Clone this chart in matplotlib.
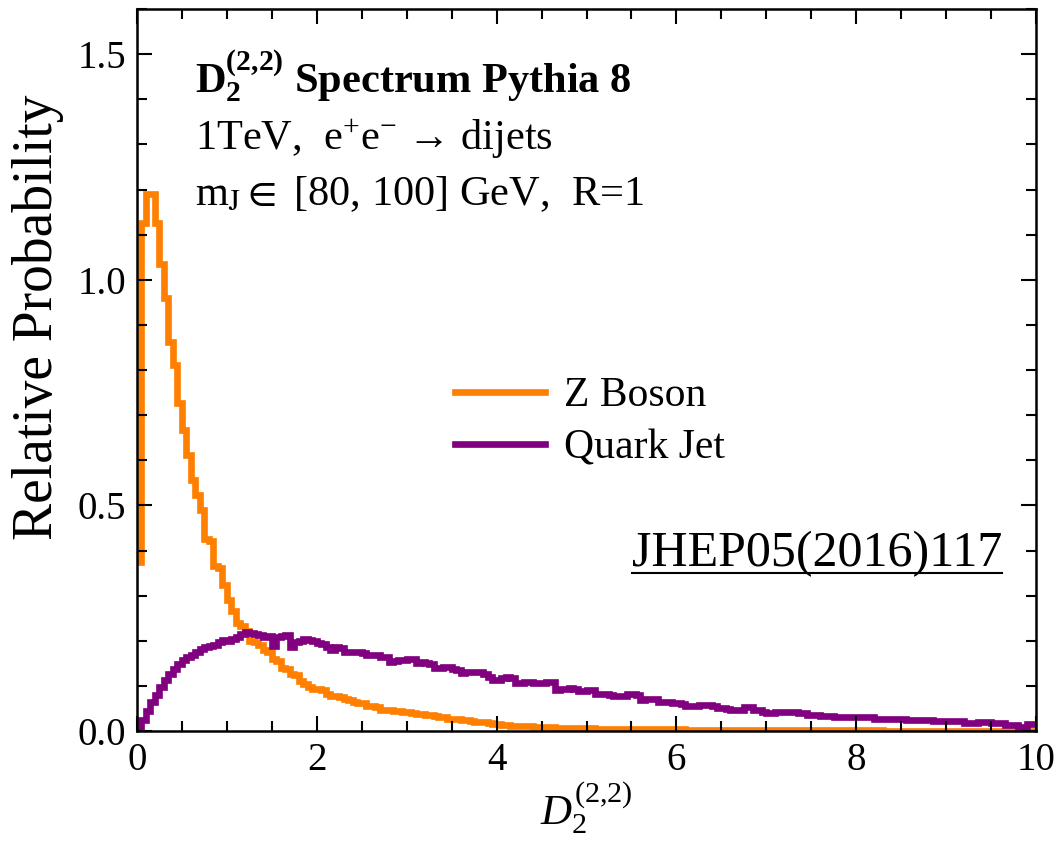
import numpy as np
import matplotlib
matplotlib.use("Agg")
import matplotlib.pyplot as plt
from matplotlib.ticker import MultipleLocator

# ---------------- data ----------------
bin_width = 0.05
x_min, x_max = 0.0, 10.0

z_boson = [
    0.375, 1.125, 1.19, 1.19, 1.125, 1.035, 0.96, 0.862, 0.81, 0.727,
    0.667, 0.612, 0.556, 0.523, 0.49, 0.425, 0.42, 0.366, 0.362, 0.324,
    0.29, 0.265, 0.24, 0.232, 0.222, 0.20, 0.198, 0.19, 0.18, 0.175,
    0.16, 0.155, 0.14, 0.138, 0.127, 0.125, 0.11, 0.104, 0.097, 0.094,
    0.093, 0.091, 0.083, 0.078, 0.077, 0.075, 0.071, 0.069, 0.064, 0.063,
    0.061, 0.056, 0.055, 0.054, 0.047, 0.046, 0.046, 0.045, 0.044, 0.042,
    0.041, 0.040, 0.038, 0.037, 0.036, 0.035, 0.033, 0.032, 0.030, 0.027,
    0.026, 0.026, 0.024, 0.024, 0.022, 0.020, 0.020, 0.019, 0.017, 0.016,
    0.015, 0.014, 0.013, 0.012, 0.011, 0.011, 0.010, 0.010, 0.009, 0.009,
    0.008, 0.008, 0.008, 0.007, 0.007, 0.007, 0.007, 0.006, 0.006, 0.006,
    0.006, 0.006, 0.005, 0.005, 0.005, 0.005, 0.005, 0.005, 0.005, 0.004,
    0.004, 0.004, 0.004, 0.004, 0.004, 0.004, 0.004, 0.004, 0.004, 0.004,
    0.004, 0.004, 0.003, 0.003, 0.003, 0.003, 0.003, 0.003, 0.003, 0.003,
    0.003, 0.003, 0.003, 0.003, 0.003, 0.003, 0.003, 0.003, 0.003, 0.003,
    0.003, 0.003, 0.002, 0.002, 0.002, 0.002, 0.002, 0.002, 0.002, 0.002,
    0.002, 0.002, 0.002, 0.002, 0.002, 0.002, 0.002, 0.002, 0.002, 0.002,
    0.002, 0.002, 0.002, 0.002, 0.002, 0.002, 0.001, 0.001, 0.001, 0.001,
    0.001, 0.001, 0.001, 0.001, 0.001, 0.001, 0.001, 0.001, 0.001, 0.001,
    0.001, 0.001, 0.001, 0.001, 0.001, 0.001, 0.001, 0.001, 0.001, 0.001,
    0.001, 0.001, 0.001, 0.001, 0.001, 0.001, 0.001, 0.001, 0.001, 0.001,
]

quark_jet = [
    0.005, 0.025, 0.045, 0.064, 0.080, 0.097, 0.112, 0.126, 0.138, 0.148,
    0.157, 0.163, 0.168, 0.175, 0.181, 0.186, 0.189, 0.191, 0.197, 0.201,
    0.200, 0.203, 0.208, 0.214, 0.219, 0.218, 0.215, 0.213, 0.209, 0.211,
    0.188, 0.208, 0.210, 0.212, 0.187, 0.197, 0.200, 0.203, 0.202, 0.199,
    0.194, 0.192, 0.186, 0.180, 0.186, 0.184, 0.176, 0.176, 0.174, 0.174,
    0.173, 0.169, 0.169, 0.168, 0.165, 0.164, 0.154, 0.155, 0.158, 0.158,
    0.160, 0.159, 0.151, 0.152, 0.150, 0.149, 0.139, 0.140, 0.142, 0.142,
    0.137, 0.136, 0.128, 0.130, 0.131, 0.131, 0.130, 0.126, 0.120, 0.114,
    0.113, 0.118, 0.119, 0.117, 0.106, 0.107, 0.109, 0.108, 0.106, 0.106,
    0.107, 0.109, 0.108, 0.091, 0.092, 0.093, 0.095, 0.094, 0.088, 0.088,
    0.091, 0.090, 0.082, 0.082, 0.081, 0.079, 0.078, 0.078, 0.078, 0.082,
    0.083, 0.080, 0.069, 0.070, 0.070, 0.070, 0.065, 0.064, 0.064, 0.063,
    0.062, 0.060, 0.055, 0.055, 0.055, 0.057, 0.057, 0.057, 0.056, 0.050,
    0.050, 0.049, 0.047, 0.047, 0.047, 0.053, 0.053, 0.047, 0.047, 0.041,
    0.039, 0.039, 0.041, 0.041, 0.041, 0.041, 0.041, 0.040, 0.040, 0.036,
    0.036, 0.035, 0.033, 0.033, 0.033, 0.030, 0.030, 0.030, 0.030, 0.031,
    0.032, 0.032, 0.032, 0.031, 0.027, 0.027, 0.027, 0.027, 0.026, 0.026,
    0.026, 0.024, 0.024, 0.024, 0.024, 0.024, 0.024, 0.022, 0.022, 0.022,
    0.022, 0.022, 0.022, 0.022, 0.018, 0.018, 0.018, 0.020, 0.020, 0.020,
    0.017, 0.017, 0.017, 0.013, 0.013, 0.013, 0.009, 0.009, 0.015, 0.015,
]

series_labels = ["Z Boson", "Quark Jet"]
x_ticks = [0, 2, 4, 6, 8, 10]
y_ticks = [0.0, 0.5, 1.0, 1.5]
y_tick_labels = ["0.0", "0.5", "1.0", "1.5"]

# ---------------- style ----------------
plt.rcParams["font.family"] = ["Liberation Serif", "DejaVu Serif"]
plt.rcParams["mathtext.fontset"] = "custom"
plt.rcParams["mathtext.rm"] = "Liberation Serif"
plt.rcParams["mathtext.it"] = "Liberation Serif:italic"
plt.rcParams["mathtext.bf"] = "Liberation Serif:bold"
plt.rcParams["mathtext.fallback"] = "stix"

ORANGE = "#FF8000"
PURPLE = "#800080"
LW = 4.8

fig = plt.figure(figsize=(10.61, 8.57), dpi=100)
ax = fig.add_axes([137 / 1061, 126 / 857, 899 / 1061, 722 / 857])

edges = np.arange(x_min, x_max + bin_width / 2, bin_width)
ax.stairs(z_boson, edges, baseline=None, color=ORANGE, lw=LW,
          label=series_labels[0])
ax.stairs(quark_jet, edges, baseline=None, color=PURPLE, lw=LW,
          label=series_labels[1])

ax.set_xlim(x_min, x_max)
ax.set_ylim(0, 1.6)
ax.set_xticks(x_ticks)
ax.set_xticklabels([str(t) for t in x_ticks])
ax.set_yticks(y_ticks)
ax.set_yticklabels(y_tick_labels)
ax.xaxis.set_minor_locator(MultipleLocator(0.5))
ax.yaxis.set_minor_locator(MultipleLocator(0.1))
ax.tick_params(which="both", direction="in", top=True, right=True,
               width=1.5, labelsize=28, colors="black")
ax.tick_params(which="major", length=11, pad=8)
ax.tick_params(which="minor", length=7)
for s in ax.spines.values():
    s.set_linewidth(1.8)

ax.set_ylabel("Relative Probability", fontsize=40)
ax.yaxis.set_label_coords(-0.081, 0.573)
ax.set_xlabel(r"$D_2^{(2{,}2)}$", fontsize=31, labelpad=0)

# annotation block
TX = 0.0645
ax.text(TX, 0.8837, r"$\mathbf{D}_{\mathbf{2}}^{\mathbf{(2{,}2)}}$ Spectrum Pythia 8",
        transform=ax.transAxes, fontsize=30.5, fontweight="bold",
        va="baseline", ha="left")
ax.text(TX, 0.8047, "1TeV,  e$^{+}$e$^{-}$ \u2192 dijets",
        transform=ax.transAxes, fontsize=30.5, va="baseline", ha="left")
ax.text(TX, 0.7285, r"m$_{\mathrm{J}} \in$ [80, 100] GeV,  R=1",
        transform=ax.transAxes, fontsize=30.5, va="baseline", ha="left",
        math_fontfamily="stix")

jhep = ax.text(0.9625, 0.2285, "JHEP05(2016)117", transform=ax.transAxes,
               fontsize=36, va="baseline", ha="right")

leg = ax.legend(loc="upper left", bbox_to_anchor=(0.3537, 0.4905),
                frameon=False, fontsize=30, handlelength=2.15,
                handletextpad=0.47, labelspacing=0.32, borderpad=0,
                borderaxespad=0)
for line in leg.get_lines():
    line.set_linewidth(LW)

# underline the reference tag, spanning the text's own extent
fig.canvas.draw()
bb = jhep.get_window_extent().transformed(ax.transAxes.inverted())
ax.plot([bb.x0, bb.x1], [0.219, 0.219], transform=ax.transAxes,
        color="black", lw=1.5, clip_on=False)

fig.savefig("out.png", dpi=100)
